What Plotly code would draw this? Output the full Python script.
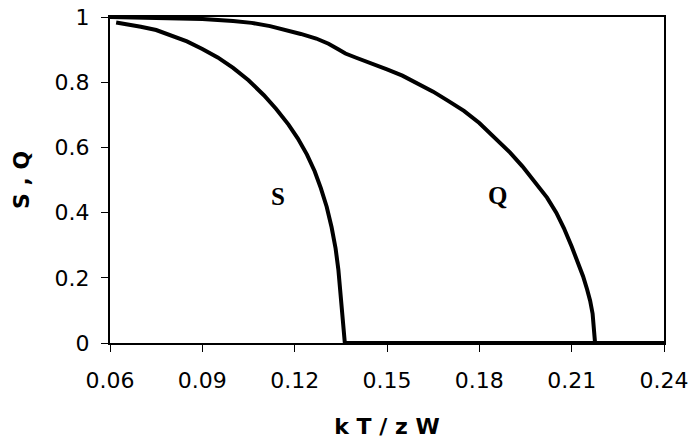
import plotly.graph_objects as go

# Data
s_x = [0.062, 0.066, 0.070, 0.075, 0.080, 0.085, 0.090, 0.095, 0.100, 0.105,
       0.110, 0.114, 0.118, 0.121, 0.124, 0.1265, 0.1285, 0.1304, 0.132, 0.1333,
       0.1342, 0.1350, 0.1356, 0.1360, 0.1363, 0.24]
s_y = [0.983, 0.977, 0.970, 0.960, 0.944, 0.925, 0.902, 0.876, 0.844, 0.806,
       0.760, 0.718, 0.670, 0.628, 0.578, 0.527, 0.475, 0.418, 0.355, 0.290,
       0.225, 0.150, 0.085, 0.040, 0.0, 0.0]

q_x = [0.060, 0.070, 0.080, 0.090, 0.100, 0.106, 0.112, 0.117, 0.122, 0.127,
       0.131, 0.134, 0.1365, 0.140, 0.145, 0.150, 0.155, 0.160, 0.165, 0.170,
       0.175, 0.180, 0.185, 0.190, 0.194, 0.198, 0.202, 0.205, 0.2075, 0.210,
       0.212, 0.2137, 0.215, 0.216, 0.2168, 0.2173, 0.2176, 0.24]
q_y = [1.0, 0.999, 0.997, 0.994, 0.988, 0.982, 0.972, 0.961, 0.948, 0.934,
       0.918, 0.902, 0.888, 0.875, 0.858, 0.839, 0.820, 0.796, 0.771, 0.742,
       0.712, 0.675, 0.628, 0.584, 0.542, 0.496, 0.446, 0.400, 0.352, 0.296,
       0.250, 0.205, 0.165, 0.130, 0.090, 0.050, 0.0, 0.0]

x_ticks = [0.06, 0.09, 0.12, 0.15, 0.18, 0.21, 0.24]
x_tick_text = ["0.06", "0.09", "0.12", "0.15", "0.18", "0.21", "0.24"]
y_ticks = [0, 0.2, 0.4, 0.6, 0.8, 1]
y_tick_text = ["0", "0.2", "0.4", "0.6", "0.8", "1"]

labels = ["S", "Q"]
label_x = [0.1146, 0.1858]
label_y = [0.448, 0.454]

fig = go.Figure()
fig.add_trace(go.Scatter(x=s_x, y=s_y, mode="lines",
                         line=dict(color="black", width=4),
                         showlegend=False))
fig.add_trace(go.Scatter(x=q_x, y=q_y, mode="lines",
                         line=dict(color="black", width=4),
                         showlegend=False))

for t, xx, yy in zip(labels, label_x, label_y):
    fig.add_annotation(x=xx, y=yy, text="<b>%s</b>" % t, showarrow=False,
                       font=dict(family="Liberation Serif", size=25, color="black"))

tick_font = dict(family="DejaVu Sans", size=22, color="black")
title_font = dict(family="DejaVu Sans", size=22, color="black")

axis_common = dict(showgrid=False, zeroline=False, showline=True, linecolor="black",
                   linewidth=2, mirror=True, ticks="outside", ticklen=7, tickwidth=1,
                   tickcolor="black", tickfont=tick_font, ticklabeloverflow="allow")

fig.update_xaxes(range=[0.06, 0.24], tickvals=x_ticks, ticktext=x_tick_text,
                 ticklabelstandoff=10,
                 title=dict(text="<b>k T / z W</b>", standoff=26, font=title_font),
                 **axis_common)
fig.update_yaxes(range=[0, 1], tickvals=y_ticks, ticktext=y_tick_text,
                 ticklabelstandoff=7,
                 title=dict(text="<b>S , Q</b>", standoff=19, font=title_font),
                 **axis_common)

fig.update_layout(width=690, height=445, paper_bgcolor="white", plot_bgcolor="white",
                  margin=dict(l=110, r=26, t=17, b=102, autoexpand=False))

fig.write_html("out.html", config={"displayModeBar": False},
               post_script="document.body.style.margin='0';document.body.style.overflow='hidden';")
